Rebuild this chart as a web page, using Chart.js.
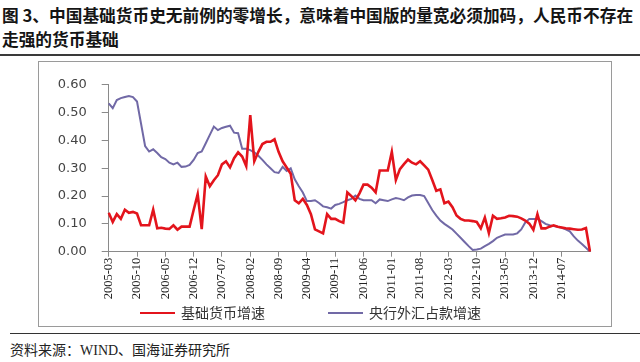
<!DOCTYPE html>
<html>
<head>
<meta charset="utf-8">
<script src="https://cdn.jsdelivr.net/npm/chart.js@4"></script>
<style>
  body { margin: 0; width: 640px; height: 362px; background: #fff; position: relative; overflow: hidden; font-family: "Noto Sans CJK SC", sans-serif; }
  #title { position: absolute; left: 2px; top: 3px; font-size: 16.7px; font-weight: 700; line-height: 24px; color: #151515; white-space: nowrap; }
  #rule1 { position: absolute; left: 0; top: 54px; width: 640px; height: 2px; background: #3a3a3a; }
  #frame { position: absolute; left: 38px; top: 61px; width: 574px; height: 266px; border: 1px solid #9a9a9a; box-sizing: border-box; }
  #chart { position: absolute; left: 0; top: 0; }
  .lg { position: absolute; top: 302px; font-size: 14px; line-height: 20px; color: #333; white-space: nowrap; }
  .lg i { display: inline-block; width: 35px; height: 2px; vertical-align: middle; margin-right: 6px; position: relative; top: -1px; }
  #rule2 { position: absolute; left: 10px; top: 333px; width: 630px; height: 1px; background: #333; }
  #src { position: absolute; left: 10px; top: 341px; font-size: 14px; line-height: 20px; color: #222; font-family: "Liberation Serif", "Noto Sans CJK SC", serif; white-space: nowrap; }
</style>
</head>
<body>
<div id="title">图 3、中国基础货币史无前例的零增长，意味着中国版的量宽必须加码，人民币不存在<br>走强的货币基础</div>
<div id="rule1"></div>
<div id="frame"><canvas id="chart" width="572" height="264"></canvas></div>
<div class="lg" style="left:140px"><i style="background:#e3141c"></i>基础货币增速</div>
<div class="lg" style="left:328px"><i style="background:#7169a6"></i>央行外汇占款增速</div>
<div id="rule2"></div>
<div id="src">资料来源：WIND、国海证券研究所</div>

<script>
// monthly, 2005-03 .. 2015-02
const firstYear = 2005, firstMonth = 3, monthCount = 120;
const labelEvery = 7;

const categories = [];
for (let i = 0; i < monthCount; i++) {
  const m = firstMonth - 1 + i;
  categories.push((firstYear + Math.floor(m / 12)) + '-' + String(m % 12 + 1).padStart(2, '0'));
}

// 基础货币增速
const baseMoneyGrowth = [
  0.140, 0.107, 0.135, 0.118, 0.151, 0.140, 0.143, 0.137, 0.095, 0.095,
  0.095, 0.151, 0.084, 0.086, 0.083, 0.082, 0.095, 0.079, 0.090, 0.090,
  0.090, 0.150, 0.207, 0.081, 0.270, 0.235, 0.257, 0.275, 0.314, 0.325,
  0.303, 0.336, 0.357, 0.342, 0.308, 0.491, 0.325, 0.359, 0.387, 0.395,
  0.395, 0.404, 0.359, 0.325, 0.303, 0.280, 0.185, 0.174, 0.190, 0.168,
  0.135, 0.080, 0.073, 0.066, 0.135, 0.118, 0.118, 0.110, 0.104, 0.213,
  0.200, 0.185, 0.210, 0.241, 0.241, 0.230, 0.213, 0.292, 0.292, 0.292,
  0.359, 0.258, 0.297, 0.315, 0.331, 0.320, 0.314, 0.325, 0.310, 0.295,
  0.258, 0.219, 0.224, 0.174, 0.180, 0.160, 0.130, 0.118, 0.112, 0.112,
  0.110, 0.107, 0.084, 0.123, 0.067, 0.129, 0.118, 0.120, 0.123, 0.129,
  0.128, 0.126, 0.120, 0.112, 0.101, 0.079, 0.135, 0.084, 0.084, 0.090,
  0.095, 0.090, 0.087, 0.084, 0.083, 0.081, 0.079, 0.080, 0.085, 0.000
];

// 央行外汇占款增速
const fxReserveGrowth = [
  0.533, 0.516, 0.545, 0.552, 0.556, 0.560, 0.556, 0.540, 0.460, 0.380,
  0.360, 0.368, 0.355, 0.340, 0.333, 0.320, 0.314, 0.320, 0.305, 0.306,
  0.312, 0.330, 0.355, 0.360, 0.390, 0.420, 0.450, 0.437, 0.445, 0.449,
  0.453, 0.428, 0.426, 0.370, 0.370, 0.365, 0.357, 0.345, 0.330, 0.314,
  0.300, 0.286, 0.283, 0.305, 0.290, 0.300, 0.260, 0.235, 0.213, 0.182,
  0.182, 0.185, 0.175, 0.163, 0.160, 0.155, 0.168, 0.172, 0.178, 0.185,
  0.190, 0.202, 0.190, 0.185, 0.185, 0.185, 0.174, 0.188, 0.185, 0.182,
  0.188, 0.193, 0.190, 0.185, 0.195, 0.202, 0.204, 0.204, 0.200, 0.175,
  0.150, 0.130, 0.112, 0.100, 0.090, 0.080, 0.065, 0.050, 0.035, 0.020,
  0.006, 0.008, 0.011, 0.020, 0.028, 0.038, 0.050, 0.056, 0.062, 0.062,
  0.062, 0.066, 0.080, 0.105, 0.118, 0.118, 0.118, 0.110, 0.100, 0.095,
  0.092, 0.090, 0.086, 0.080, 0.073, 0.055, 0.040, 0.028, 0.014, 0.000
];

const yMin = 0, yMax = 0.6, yStep = 0.1;

// a tick label every 7 months, none on the last month
const showLabel = i => i % labelEvery === 0 && i < monthCount - 1;

new Chart(document.getElementById('chart'), {
  type: 'line',
  data: {
    labels: categories,
    datasets: [
      { label: '基础货币增速', data: baseMoneyGrowth, borderColor: '#e3141c', borderWidth: 2.6, pointRadius: 0, tension: 0, fill: false },
      { label: '央行外汇占款增速', data: fxReserveGrowth, borderColor: '#7169a6', borderWidth: 2, pointRadius: 0, tension: 0, fill: false }
    ]
  },
  options: {
    responsive: false,
    animation: false,
    devicePixelRatio: 1,
    layout: { padding: { top: 11.3, right: 21, bottom: 14.3, left: 0 } },
    plugins: { legend: { display: false }, tooltip: { enabled: false } },
    scales: {
      x: {
        offset: false,
        afterFit: s => { s.height = 60; },
        border: { color: '#8a8a8a' },
        grid: {
          drawOnChartArea: false,
          tickLength: 5,
          color: c => (showLabel(c.index) ? '#8a8a8a' : 'rgba(0,0,0,0)')
        },
        ticks: {
          autoSkip: false,
          minRotation: 90,
          maxRotation: 90,
          padding: 1,
          color: '#222',
          font: { family: 'Liberation Serif', size: 12.5 },
          callback: (v, i) => (showLabel(i) ? categories[i] : '')
        }
      },
      y: {
        min: yMin,
        max: yMax,
        afterFit: s => { s.width = 69.7; },
        border: { color: '#8a8a8a' },
        grid: { drawOnChartArea: false, tickLength: 7, color: '#8a8a8a' },
        ticks: {
          stepSize: yStep,
          padding: 15,
          color: '#444',
          font: { family: 'DejaVu Sans', size: 13 },
          callback: v => v.toFixed(2)
        }
      }
    }
  }
});
</script>
</body>
</html>
